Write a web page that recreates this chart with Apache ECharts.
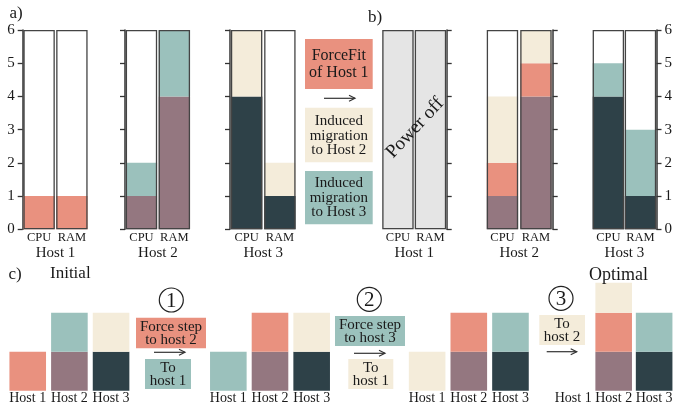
<!DOCTYPE html>
<html>
<head>
<meta charset="utf-8">
<script src="https://cdn.jsdelivr.net/npm/echarts@6/dist/echarts.min.js"></script>
<style>
  html, body { margin: 0; padding: 0; background: #fff; }
  #chart { width: 675px; height: 410px; }
</style>
</head>
<body>
<div id="chart"></div>
<script>
// ---- data ----
const resources = ['CPU', 'RAM']
const hostNames = ['Host 1', 'Host 2', 'Host 3']
const hostCapacity = 6

// VMs in stacking order (bottom first)
const vmNames = ['Host 2 resident', 'Host 3 resident', 'Host 1 VM', 'Host 2 mover', 'Host 3 mover']
const vmCpu = [1, 4, 1, 1, 2]
const vmRam = [4, 1, 1, 2, 1]
const vmBlocks = [1, 1, 1, 1, 1]

// host index of each VM
const placeInitial = [1, 2, 0, 1, 2]
const placeForceFit = [1, 2, 1, 2, 1]
const powerOffLevel = [6, 0, 0]

// panel c: initial, after step 1, after step 2, optimal
const stepPlacements = [
  [1, 2, 0, 1, 2],
  [1, 2, 1, 0, 2],
  [1, 2, 1, 2, 0],
  [1, 2, 1, 2, 1]
]

// ---- styles ----
const vmColors = ['#947780', '#2E4148', '#E9917F', '#9BC1BC', '#F4ECDA']
const offColor = '#E5E5E5'
const textColor = '#1a1a1a'
const lineColor = '#333333'
const serif = '"Liberation Serif", "DejaVu Serif", serif'

const grids = []
const xAxes = []
const yAxes = []
const series = []

function addHostChart(left, width, hostIndex, placement, side, showLabels, offLevel) {
  const g = grids.length
  grids.push({ left, top: 30, width, height: 199.3 })
  xAxes.push({
    gridIndex: g,
    type: 'category',
    data: resources,
    axisLine: { show: false },
    axisTick: { show: false },
    axisLabel: { interval: 0, hideOverlap: false, margin: 2, fontSize: 12.5, color: textColor, fontFamily: serif },
    name: hostNames[hostIndex],
    nameLocation: 'middle',
    nameGap: 14,
    nameTextStyle: { fontSize: 15, color: textColor, fontFamily: serif }
  })
  yAxes.push({
    gridIndex: g,
    type: 'value',
    min: 0,
    max: 6,
    interval: 1,
    position: side,
    axisLine: { show: true, lineStyle: { color: lineColor, width: 1.5 } },
    axisTick: { show: true, length: 5, lineStyle: { color: lineColor, width: 1.3 } },
    axisLabel: { show: showLabels, margin: 8, fontSize: 15, color: textColor, fontFamily: serif },
    splitLine: { show: false }
  })
  const common = {
    type: 'bar', xAxisIndex: g, yAxisIndex: g, barWidth: 31.4, barGap: '-100%', silent: true
  }
  if (offLevel) {
    series.push(Object.assign({}, common, {
      name: 'Power off', stack: 's' + g,
      data: resources.map(() => offLevel),
      itemStyle: { color: offColor }
    }))
  }
  vmNames.forEach((name, k) => {
    series.push(Object.assign({}, common, {
      name,
      stack: 's' + g,
      data: resources.map((r, i) => placement[k] === hostIndex ? (i === 0 ? vmCpu[k] : vmRam[k]) : 0),
      itemStyle: { color: vmColors[k] }
    }))
  })
  series.push(Object.assign({}, common, {
    name: 'frame',
    data: resources.map(() => hostCapacity),
    itemStyle: { color: 'rgba(0,0,0,0)', borderColor: '#444', borderWidth: 1.3 },
    z: 3
  }))
}

// panel a
const aLeft = [22.7, 125, 230]
const aWidth = [65.6, 65.8, 66.5]
hostNames.forEach((h, i) => addHostChart(aLeft[i], aWidth[i], i, placeInitial, 'left', i === 0, 0))

// panel b
const bLeft = [381.7, 485.7, 592.3]
const bWidth = [65, 67, 65.4]
hostNames.forEach((h, i) => addHostChart(bLeft[i], bWidth[i], i, placeForceFit, 'right', i === 2, powerOffLevel[i]))

// panel c
const cLeft = [6.9, 207.5, 406.3, 553]
const cTop = [312.7, 312.7, 312.7, 282.7]
const cMax = [2, 2, 2, 2.77]
stepPlacements.forEach((placement, s) => {
  const g = grids.length
  grids.push({ left: cLeft[s], top: cTop[s], width: 125, height: 390.7 - cTop[s] })
  xAxes.push({
    gridIndex: g,
    type: 'category',
    data: hostNames,
    axisLine: { show: false },
    axisTick: { show: false },
    axisLabel: { interval: 0, hideOverlap: false, margin: 1, fontSize: 14, color: textColor, fontFamily: serif }
  })
  yAxes.push({ gridIndex: g, type: 'value', min: 0, max: cMax[s], show: false })
  vmNames.forEach((name, k) => {
    series.push({
      type: 'bar', name, xAxisIndex: g, yAxisIndex: g, stack: 'c' + g, barWidth: 36.6, silent: true,
      data: hostNames.map((h, i) => placement[k] === i ? vmBlocks[k] : 0),
      itemStyle: { color: vmColors[k] }
    })
  })
})

// ---- annotations ----
function label(x, y, text, size, extra) {
  return {
    type: 'text', x, y, z: 100,
    style: Object.assign({
      text, font: size + 'px ' + serif, fill: textColor, align: 'center', verticalAlign: 'middle'
    }, extra || {})
  }
}
function box(x, y, w, h, color) {
  return { type: 'rect', z: 90, shape: { x, y, width: w, height: h }, style: { fill: color } }
}
function arrow(x1, x2, y) {
  return {
    type: 'group', z: 100,
    children: [
      { type: 'line', shape: { x1, y1: y, x2, y2: y }, style: { stroke: lineColor, lineWidth: 1.2 } },
      { type: 'polyline', shape: { points: [[x2 - 6, y - 3], [x2, y], [x2 - 6, y + 3]] },
        style: { stroke: lineColor, lineWidth: 1.2, fill: null } }
    ]
  }
}
function stepMark(cx, cy, n) {
  return [
    { type: 'circle', z: 100, shape: { cx, cy, r: 12 }, style: { fill: null, stroke: '#222', lineWidth: 1.2 } },
    label(cx, cy + 1, n, 21)
  ]
}

const graphics = [
  label(16, 14, 'a)', 17),
  label(375, 18, 'b)', 17),
  label(15, 275, 'c)', 17),

  box(305, 39, 67.7, 50, vmColors[2]),
  label(338.8, 64, 'ForceFit\nof Host 1', 16, { lineHeight: 17 }),
  arrow(324, 355, 98.3),
  box(305, 107.7, 67.7, 54.6, vmColors[4]),
  label(338.8, 136, 'Induced\nmigration\nto Host 2', 15, { lineHeight: 14.5 }),
  box(305, 171, 67.7, 53.3, vmColors[3]),
  label(338.8, 198, 'Induced\nmigration\nto Host 3', 15, { lineHeight: 14.5 }),

  label(415, 128, 'Power off', 19, {}),

  label(70.3, 274, 'Initial', 17),
  label(618.5, 275, 'Optimal', 18),

  ...stepMark(171.3, 300, '1'),
  box(136, 317.7, 70, 30.6, vmColors[2]),
  label(171, 333.5, 'Force step\nto host 2', 15, { lineHeight: 13.5 }),
  arrow(154, 185, 352.3),
  box(145, 359, 46, 30, vmColors[3]),
  label(168, 374.5, 'To\nhost 1', 15, { lineHeight: 13.5 }),

  ...stepMark(369.3, 299.3, '2'),
  box(335, 316, 70, 30, vmColors[3]),
  label(370, 331.5, 'Force step\nto host 3', 15, { lineHeight: 13.5 }),
  arrow(354, 385, 353.3),
  box(348.3, 359, 45, 30, vmColors[4]),
  label(370.8, 374.5, 'To\nhost 1', 15, { lineHeight: 13.5 }),

  ...stepMark(561, 298.3, '3'),
  box(539.3, 315, 45.7, 30, vmColors[4]),
  label(562, 330.5, 'To\nhost 2', 15, { lineHeight: 13.5 }),
  arrow(546.7, 576.7, 351.7)
]
// rotate the power-off label
graphics.find(e => e.style && e.style.text === 'Power off').rotation = 0.82

const chart = echarts.init(document.getElementById('chart'), null, { renderer: 'canvas' })
chart.setOption({
  animation: false,
  backgroundColor: '#fff',
  grid: grids,
  xAxis: xAxes,
  yAxis: yAxes,
  series,
  graphic: graphics
})
</script>
</body>
</html>
